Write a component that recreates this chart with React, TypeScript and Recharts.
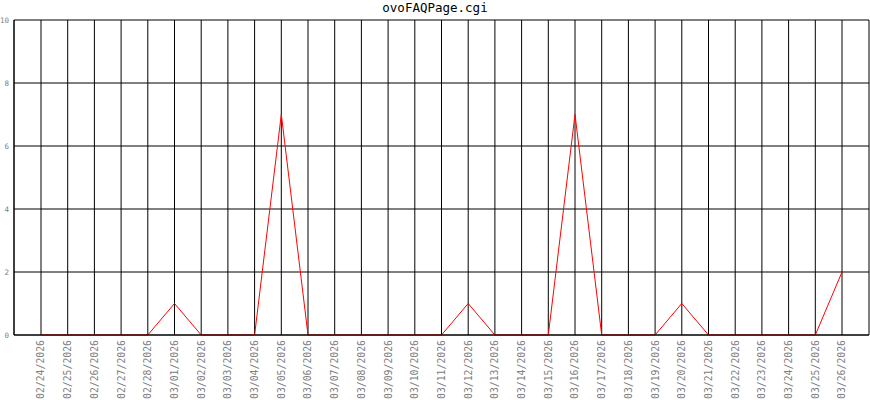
import React from "react";
import { LineChart, Line, XAxis, YAxis, CartesianGrid } from "recharts";

const dates = [
  "02/24/2026", "02/25/2026", "02/26/2026", "02/27/2026", "02/28/2026",
  "03/01/2026", "03/02/2026", "03/03/2026", "03/04/2026", "03/05/2026",
  "03/06/2026", "03/07/2026", "03/08/2026", "03/09/2026", "03/10/2026",
  "03/11/2026", "03/12/2026", "03/13/2026", "03/14/2026", "03/15/2026",
  "03/16/2026", "03/17/2026", "03/18/2026", "03/19/2026", "03/20/2026",
  "03/21/2026", "03/22/2026", "03/23/2026", "03/24/2026", "03/25/2026",
  "03/26/2026",
];
const hits = [
  0, 0, 0, 0, 0,
  1, 0, 0, 0, 7,
  0, 0, 0, 0, 0,
  0, 1, 0, 0, 0,
  7, 0, 0, 0, 1,
  0, 0, 0, 0, 0,
  2,
];
const yTicks = [0, 2, 4, 6, 8, 10];
const title = "ovoFAQPage.cgi";

const data = dates.map((d, i) => ({ date: d, value: hits[i] }));

const MONO = "'DejaVu Sans Mono', 'Liberation Mono', monospace";

const XTick = (props: any) => {
  const { x, y, payload } = props;
  return (
    <g transform={`translate(${x},${y})`}>
      <text
        transform="rotate(-90)"
        textAnchor="end"
        dy="0.35em"
        fontFamily={MONO}
        fontSize={9.8}
        fill="#808080"
      >
        {payload.value}
      </text>
    </g>
  );
};

export default function App() {
  return (
    <div style={{ position: "absolute", left: 0, top: 0, width: 870, height: 400, background: "#fff" }}>
      <div
        style={{
          position: "absolute",
          left: 0,
          top: 0,
          width: 870,
          textAlign: "center",
          fontFamily: MONO,
          fontSize: 12.5,
          lineHeight: "16px",
          color: "#000",
        }}
      >
        {title}
      </div>
      <LineChart
        width={870}
        height={400}
        data={data}
        margin={{ top: 20, right: 1, left: 0, bottom: 0 }}
      >
        <CartesianGrid yAxisId="left" stroke="#000" strokeWidth={1} />
        <XAxis
          dataKey="date"
          interval={0}
          height={65}
          padding={{ left: 27, right: 27 }}
          tickLine={false}
          tickSize={0}
          tickMargin={5}
          axisLine={{ stroke: "#000" }}
          tick={<XTick />}
        />
        <YAxis
          yAxisId="left"
          domain={[0, 10]}
          ticks={yTicks}
          width={14}
          tickLine={false}
          tickSize={5}
          tickMargin={0}
          axisLine={{ stroke: "#000" }}
          tick={{ fontFamily: MONO, fontSize: 7.5, fill: "#808080" }}
        />
        <YAxis
          yAxisId="right"
          orientation="right"
          domain={[0, 10]}
          ticks={yTicks}
          width={0}
          tick={false}
          tickLine={false}
          axisLine={{ stroke: "#000" }}
        />
        <Line
          yAxisId="left"
          type="linear"
          dataKey="value"
          stroke="#ff0000"
          strokeWidth={1}
          dot={false}
          activeDot={false}
          isAnimationActive={false}
        />
      </LineChart>
    </div>
  );
}
